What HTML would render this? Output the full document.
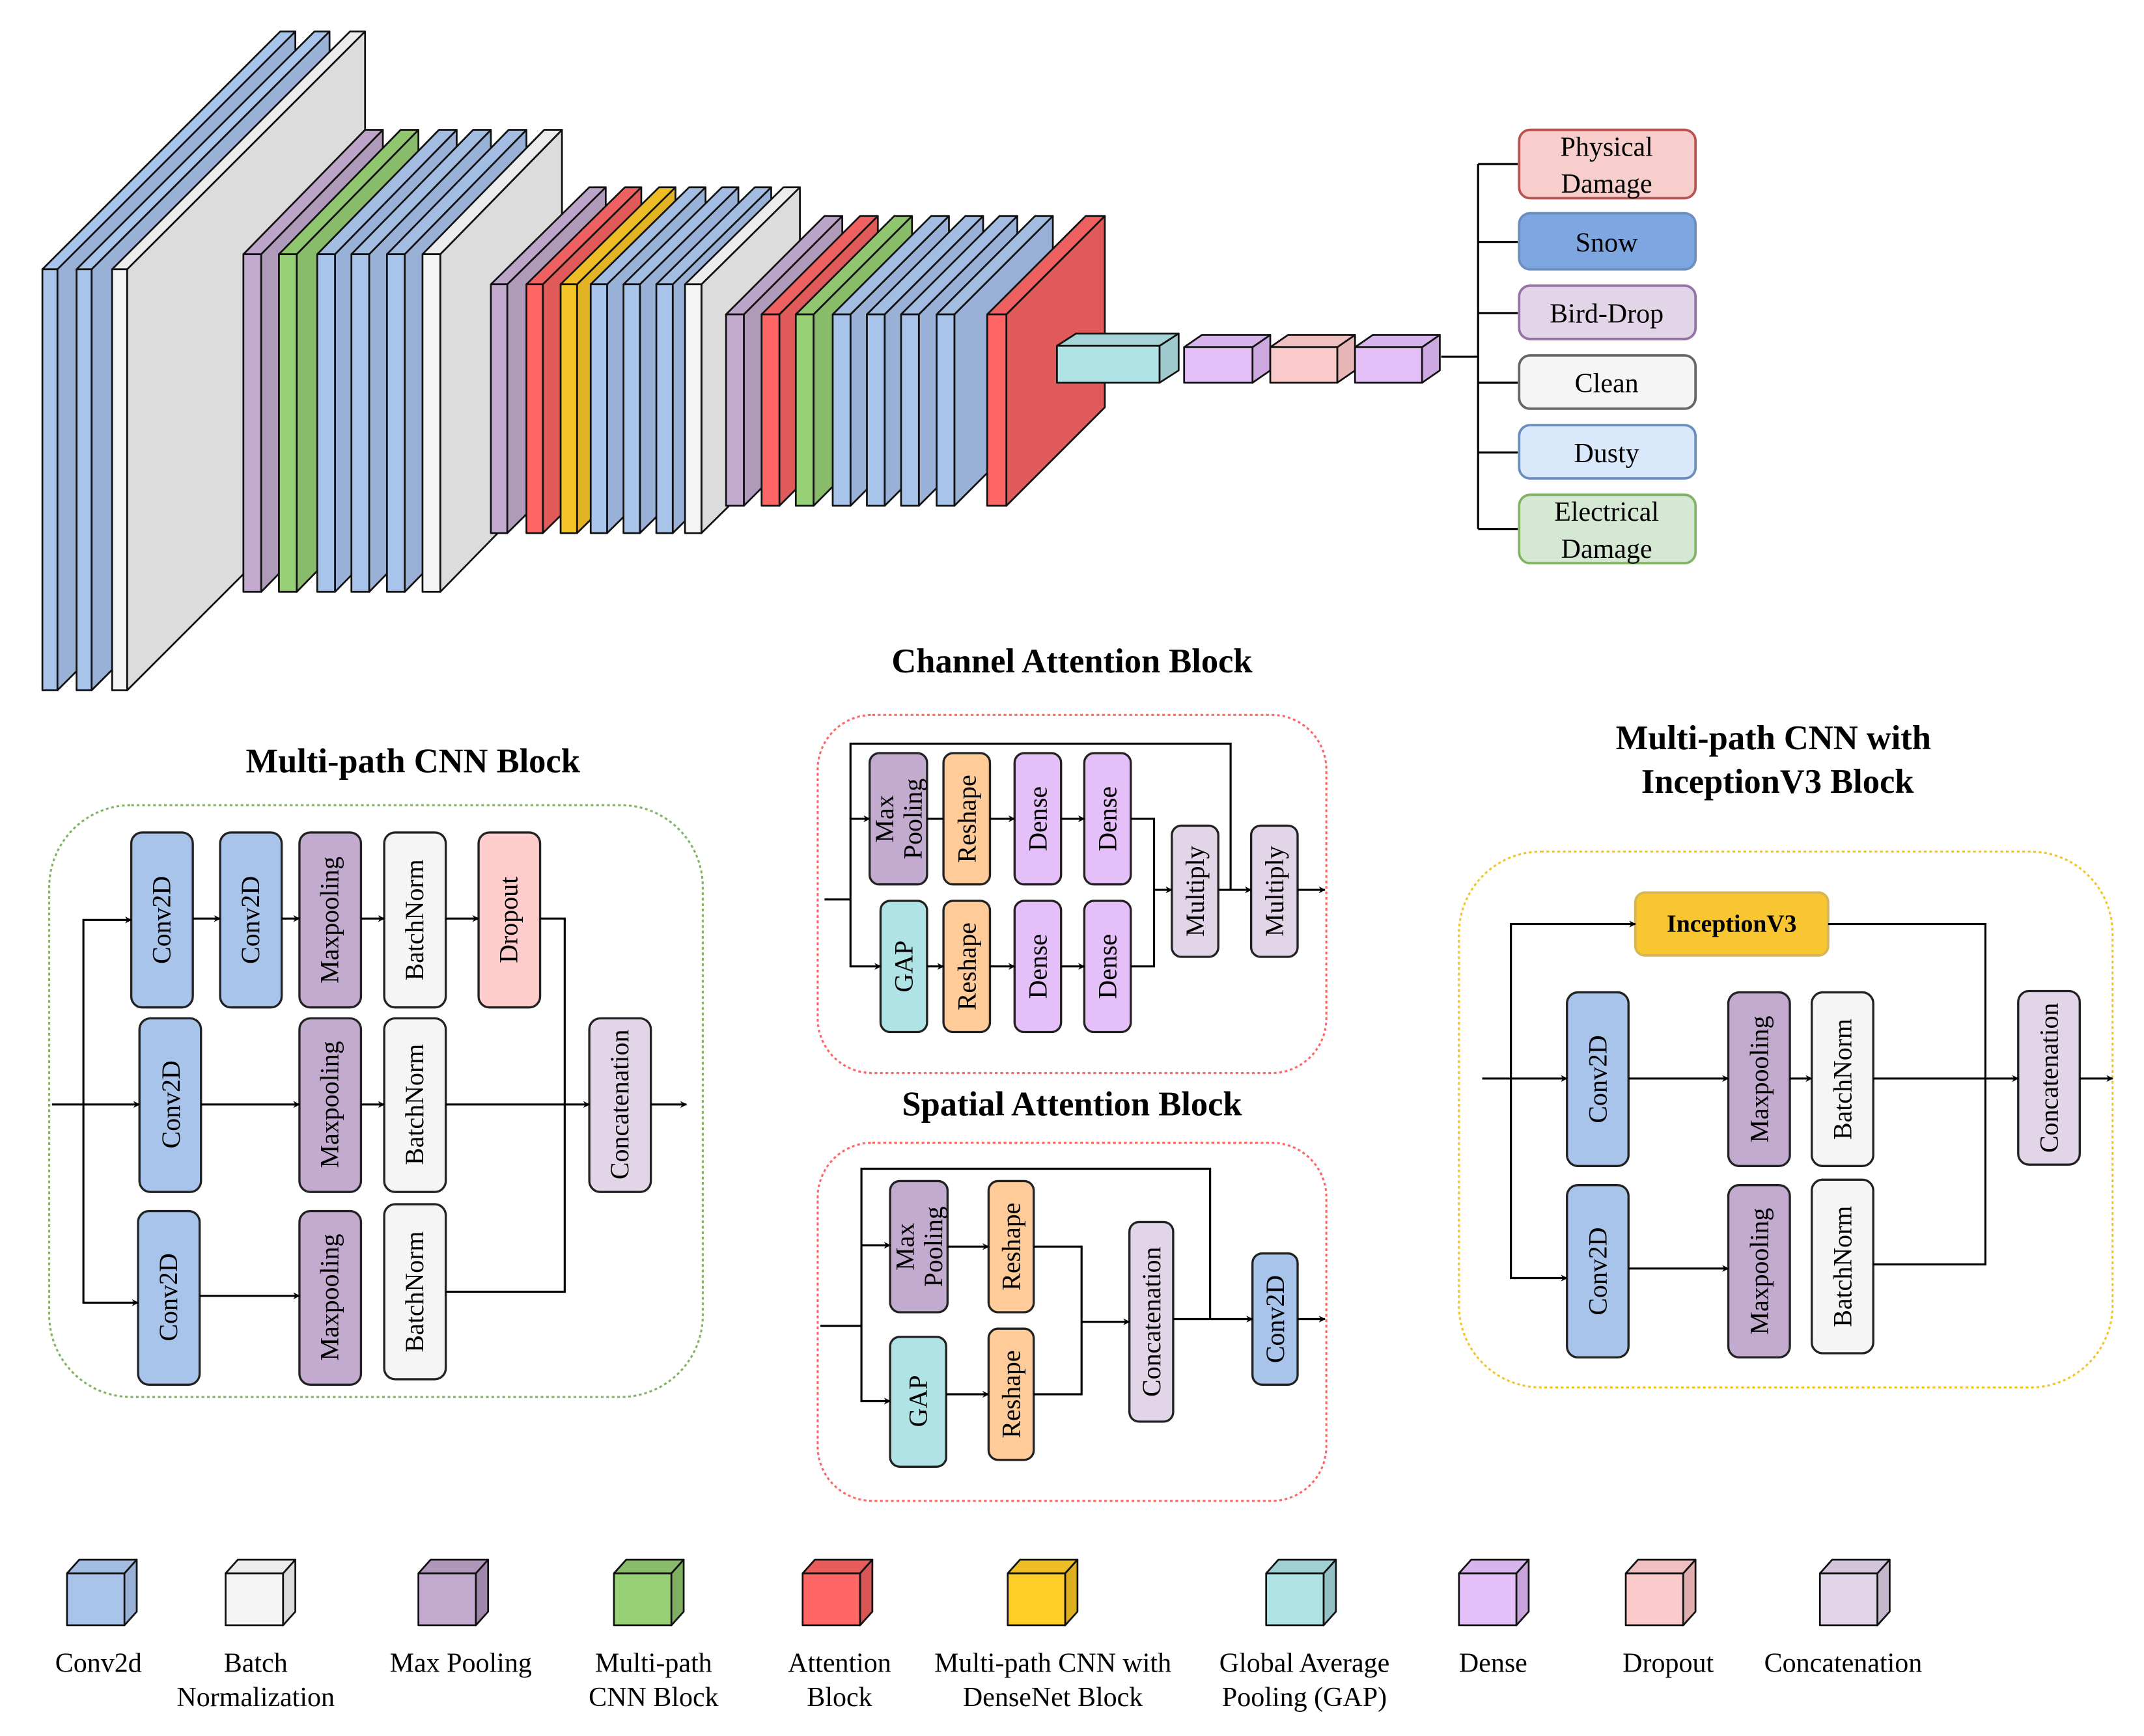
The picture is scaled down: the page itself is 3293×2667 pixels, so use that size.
<!DOCTYPE html>
<html><head><meta charset="utf-8"><style>
html,body{margin:0;padding:0;background:#fff}
svg{display:block}
text{font-family:"Liberation Serif",serif;fill:#000}
.s{stroke:#111;stroke-width:1.3;stroke-linejoin:round}
.b{stroke:#222;stroke-width:1.6}
.l{fill:none;stroke:#000;stroke-width:1.5}
.t{font-size:19px;text-anchor:middle;dominant-baseline:central}
.h{font-size:25px;font-weight:bold;text-anchor:middle}
.g{font-size:20px;text-anchor:middle}
</style></head><body>
<svg width="3293" height="2667" viewBox="0 0 1568 1270" preserveAspectRatio="none" xmlns="http://www.w3.org/2000/svg">
<defs>
<marker id="a" viewBox="0 0 10 10" refX="9" refY="5" markerWidth="5" markerHeight="5" orient="auto" markerUnits="userSpaceOnUse"><path d="M0,0 L10,5 L0,10 L3,5 z" fill="#000"/></marker>
</defs>

<g class="s">
<g transform="translate(31,197)"><polygon points="11,0 185,-174 185,134 11,308" fill="#99b1d6"/><polygon points="0,0 174,-174 185,-174 11,0" fill="#a9c4eb"/><rect width="11" height="308" fill="#a9c4eb"/></g>
<g transform="translate(56,197)"><polygon points="11,0 185,-174 185,134 11,308" fill="#99b1d6"/><polygon points="0,0 174,-174 185,-174 11,0" fill="#a9c4eb"/><rect width="11" height="308" fill="#a9c4eb"/></g>
<g transform="translate(82,197)"><polygon points="11,0 185,-174 185,134 11,308" fill="#dcdcdc"/><polygon points="0,0 174,-174 185,-174 11,0" fill="#ececec"/><rect width="11" height="308" fill="#f5f5f5"/></g>
</g>

<g class="s">
<g transform="translate(178,186)"><polygon points="13,0 102,-91 102,156 13,247" fill="#b09ab9"/><polygon points="0,0 89,-91 102,-91 13,0" fill="#bca5c9"/><rect width="13" height="247" fill="#c3abd0"/></g>
<g transform="translate(204,186)"><polygon points="13,0 102,-91 102,156 13,247" fill="#88bb6a"/><polygon points="0,0 89,-91 102,-91 13,0" fill="#90c66f"/><rect width="13" height="247" fill="#97d077"/></g>
<g transform="translate(232,186)"><polygon points="13,0 102,-91 102,156 13,247" fill="#99b1d6"/><polygon points="0,0 89,-91 102,-91 13,0" fill="#a2bce2"/><rect width="13" height="247" fill="#a9c4eb"/></g>
<g transform="translate(257,186)"><polygon points="13,0 102,-91 102,156 13,247" fill="#99b1d6"/><polygon points="0,0 89,-91 102,-91 13,0" fill="#a2bce2"/><rect width="13" height="247" fill="#a9c4eb"/></g>
<g transform="translate(283,186)"><polygon points="13,0 102,-91 102,156 13,247" fill="#99b1d6"/><polygon points="0,0 89,-91 102,-91 13,0" fill="#a2bce2"/><rect width="13" height="247" fill="#a9c4eb"/></g>
<g transform="translate(309,186)"><polygon points="13,0 102,-91 102,156 13,247" fill="#dcdcdc"/><polygon points="0,0 89,-91 102,-91 13,0" fill="#ececec"/><rect width="13" height="247" fill="#f5f5f5"/></g>
</g>

<g class="s">
<g transform="translate(359,208)"><polygon points="12,0 84,-71 84,111 12,182" fill="#b09ab9"/><polygon points="0,0 72,-71 84,-71 12,0" fill="#bca5c9"/><rect width="12" height="182" fill="#c3abd0"/></g>
<g transform="translate(385,208)"><polygon points="12,0 84,-71 84,111 12,182" fill="#e05a5a"/><polygon points="0,0 72,-71 84,-71 12,0" fill="#ef6060"/><rect width="12" height="182" fill="#ff6666"/></g>
<g transform="translate(410,208)"><polygon points="12,0 84,-71 84,111 12,182" fill="#e2b424"/><polygon points="0,0 72,-71 84,-71 12,0" fill="#eebd26"/><rect width="12" height="182" fill="#f5c527"/></g>
<g transform="translate(432,208)"><polygon points="12,0 84,-71 84,111 12,182" fill="#99b1d6"/><polygon points="0,0 72,-71 84,-71 12,0" fill="#a2bce2"/><rect width="12" height="182" fill="#a9c4eb"/></g>
<g transform="translate(456,208)"><polygon points="12,0 84,-71 84,111 12,182" fill="#99b1d6"/><polygon points="0,0 72,-71 84,-71 12,0" fill="#a2bce2"/><rect width="12" height="182" fill="#a9c4eb"/></g>
<g transform="translate(480,208)"><polygon points="12,0 84,-71 84,111 12,182" fill="#99b1d6"/><polygon points="0,0 72,-71 84,-71 12,0" fill="#a2bce2"/><rect width="12" height="182" fill="#a9c4eb"/></g>
<g transform="translate(501,208)"><polygon points="12,0 84,-71 84,111 12,182" fill="#dcdcdc"/><polygon points="0,0 72,-71 84,-71 12,0" fill="#ececec"/><rect width="12" height="182" fill="#f5f5f5"/></g>
</g>

<g class="s">
<g transform="translate(531,230)"><polygon points="13,0 85,-72 85,68 13,140" fill="#b09ab9"/><polygon points="0,0 72,-72 85,-72 13,0" fill="#bca5c9"/><rect width="13" height="140" fill="#c3abd0"/></g>
<g transform="translate(557,230)"><polygon points="13,0 85,-72 85,68 13,140" fill="#e05a5a"/><polygon points="0,0 72,-72 85,-72 13,0" fill="#ef6060"/><rect width="13" height="140" fill="#ff6666"/></g>
<g transform="translate(582,230)"><polygon points="13,0 85,-72 85,68 13,140" fill="#88bb6a"/><polygon points="0,0 72,-72 85,-72 13,0" fill="#90c66f"/><rect width="13" height="140" fill="#97d077"/></g>
<g transform="translate(609,230)"><polygon points="13,0 85,-72 85,68 13,140" fill="#99b1d6"/><polygon points="0,0 72,-72 85,-72 13,0" fill="#a2bce2"/><rect width="13" height="140" fill="#a9c4eb"/></g>
<g transform="translate(634,230)"><polygon points="13,0 85,-72 85,68 13,140" fill="#99b1d6"/><polygon points="0,0 72,-72 85,-72 13,0" fill="#a2bce2"/><rect width="13" height="140" fill="#a9c4eb"/></g>
<g transform="translate(659,230)"><polygon points="13,0 85,-72 85,68 13,140" fill="#99b1d6"/><polygon points="0,0 72,-72 85,-72 13,0" fill="#a2bce2"/><rect width="13" height="140" fill="#a9c4eb"/></g>
<g transform="translate(685,230)"><polygon points="13,0 85,-72 85,68 13,140" fill="#99b1d6"/><polygon points="0,0 72,-72 85,-72 13,0" fill="#a2bce2"/><rect width="13" height="140" fill="#a9c4eb"/></g>
<g transform="translate(722,230)"><polygon points="14,0 86,-72 86,68 14,140" fill="#e05a5a"/><polygon points="0,0 72,-72 86,-72 14,0" fill="#ef6060"/><rect width="14" height="140" fill="#ff6666"/></g>
</g>

<g class="s" stroke-width="2">
<g transform="translate(773,253)"><polygon points="75,0 89,-9 89,18 75,27" fill="#9fcbcf"/><polygon points="0,0 14,-9 89,-9 75,0" fill="#a6d5d9"/><rect width="75" height="27" fill="#b0e3e6"/></g>
<g transform="translate(866,254)"><polygon points="50,0 63,-9 63,17 50,26" fill="#cda8e0"/><polygon points="0,0 13,-9 63,-9 50,0" fill="#d7b5ec"/><rect width="50" height="26" fill="#e5bff8"/></g>
<g transform="translate(929,254)"><polygon points="49,0 62,-9 62,17 49,26" fill="#e6b6b6"/><polygon points="0,0 13,-9 62,-9 49,0" fill="#f0c0c0"/><rect width="49" height="26" fill="#fbcaca"/></g>
<g transform="translate(991,254)"><polygon points="49,0 62,-9 62,17 49,26" fill="#cda8e0"/><polygon points="0,0 13,-9 62,-9 49,0" fill="#d7b5ec"/><rect width="49" height="26" fill="#e5bff8"/></g>
</g>

<g class="l" stroke="#333">
<path d="M1054,261 H1081 M1081,120 V387 M1081,120 H1110 M1081,177 H1110 M1081,229 H1110 M1081,280 H1110 M1081,331 H1110 M1081,387 H1110"/>
</g>
<g stroke-width="1.8">
<rect x="1111" y="95" width="129" height="50" rx="8" fill="#f8cecc" stroke="#b85450"/>
<rect x="1111" y="156" width="129" height="41" rx="8" fill="#7ea6e0" stroke="#6c8ebf"/>
<rect x="1111" y="209" width="129" height="39" rx="8" fill="#e1d5e7" stroke="#9673a6"/>
<rect x="1111" y="260" width="129" height="39" rx="8" fill="#f5f5f5" stroke="#666"/>
<rect x="1111" y="311" width="129" height="39" rx="8" fill="#dae8fc" stroke="#6c8ebf"/>
<rect x="1111" y="362" width="129" height="50" rx="8" fill="#d5e8d4" stroke="#82b366"/>
</g>
<g class="g">
<text x="1175" y="114">Physical</text><text x="1175" y="141">Damage</text>
<text x="1175" y="184">Snow</text>
<text x="1175" y="236">Bird-Drop</text>
<text x="1175" y="287">Clean</text>
<text x="1175" y="338">Dusty</text>
<text x="1175" y="381">Electrical</text><text x="1175" y="408">Damage</text>
</g>

<text class="h" x="302" y="565">Multi-path CNN Block</text>
<rect x="36" y="589" width="478" height="433" rx="60" fill="none" stroke="#82b366" stroke-width="1.5" stroke-dasharray="2 2"/>
<g class="b">
<rect x="96" y="609" width="45" height="128" rx="8" fill="#a9c4eb"/>
<rect x="161" y="609" width="45" height="128" rx="8" fill="#a9c4eb"/>
<rect x="219" y="609" width="45" height="128" rx="8" fill="#c3abd0"/>
<rect x="281" y="609" width="45" height="128" rx="8" fill="#f5f5f5"/>
<rect x="350" y="609" width="45" height="128" rx="8" fill="#ffcccc"/>
<rect x="102" y="745" width="45" height="127" rx="8" fill="#a9c4eb"/>
<rect x="219" y="745" width="45" height="127" rx="8" fill="#c3abd0"/>
<rect x="281" y="745" width="45" height="127" rx="8" fill="#f5f5f5"/>
<rect x="431" y="745" width="45" height="127" rx="8" fill="#e1d5e7"/>
<rect x="101" y="886" width="45" height="127" rx="8" fill="#a9c4eb"/>
<rect x="219" y="886" width="45" height="127" rx="8" fill="#c3abd0"/>
<rect x="281" y="881" width="45" height="128" rx="8" fill="#f5f5f5"/>
</g>
<g class="t">
<text transform="rotate(-90 118 673)" x="118" y="673">Conv2D</text>
<text transform="rotate(-90 183 673)" x="183" y="673">Conv2D</text>
<text transform="rotate(-90 241 673)" x="241" y="673">Maxpooling</text>
<text transform="rotate(-90 303 673)" x="303" y="673">BatchNorm</text>
<text transform="rotate(-90 372 673)" x="372" y="673">Dropout</text>
<text transform="rotate(-90 125 808)" x="125" y="808">Conv2D</text>
<text transform="rotate(-90 241 808)" x="241" y="808">Maxpooling</text>
<text transform="rotate(-90 303 808)" x="303" y="808">BatchNorm</text>
<text transform="rotate(-90 453 808)" x="453" y="808">Concatenation</text>
<text transform="rotate(-90 123 949)" x="123" y="949">Conv2D</text>
<text transform="rotate(-90 241 949)" x="241" y="949">Maxpooling</text>
<text transform="rotate(-90 303 945)" x="303" y="945">BatchNorm</text>
</g>
<g class="l">
<path d="M38,808 H102" marker-end="url(#a)"/>
<path d="M61,808 V673 H96" marker-end="url(#a)"/>
<path d="M61,808 V953 H101" marker-end="url(#a)"/>
<path d="M141,672 H161" marker-end="url(#a)"/>
<path d="M206,672 H219" marker-end="url(#a)"/>
<path d="M264,672 H281" marker-end="url(#a)"/>
<path d="M326,672 H350" marker-end="url(#a)"/>
<path d="M147,808 H219" marker-end="url(#a)"/>
<path d="M264,808 H281" marker-end="url(#a)"/>
<path d="M146,948 H219" marker-end="url(#a)"/>
<path d="M395,672 H413 V945 H326"/>
<path d="M326,808 H431" marker-end="url(#a)"/>
<path d="M476,808 H502" marker-end="url(#a)"/>
</g>

<text class="h" x="784" y="492">Channel Attention Block</text>
<rect x="598" y="523" width="372" height="262" rx="40" fill="none" stroke="#ff6666" stroke-width="1.5" stroke-dasharray="2 2"/>
<g class="b">
<rect x="636" y="551" width="42" height="96" rx="7" fill="#c3abd0"/>
<rect x="690" y="551" width="34" height="96" rx="7" fill="#ffcc99"/>
<rect x="742" y="551" width="34" height="96" rx="7" fill="#e5bff8"/>
<rect x="793" y="551" width="34" height="96" rx="7" fill="#e5bff8"/>
<rect x="644" y="659" width="34" height="96" rx="7" fill="#b0e3e6"/>
<rect x="690" y="659" width="34" height="96" rx="7" fill="#ffcc99"/>
<rect x="742" y="659" width="34" height="96" rx="7" fill="#e5bff8"/>
<rect x="793" y="659" width="34" height="96" rx="7" fill="#e5bff8"/>
<rect x="857" y="604" width="34" height="96" rx="7" fill="#e1d5e7"/>
<rect x="915" y="604" width="34" height="96" rx="7" fill="#e1d5e7"/>
</g>
<g class="t">
<text transform="rotate(-90 657 599)" x="657" y="599"><tspan x="657" dy="-0.55em">Max</tspan><tspan x="657" dy="1.1em">Pooling</tspan></text>
<text transform="rotate(-90 707 599)" x="707" y="599">Reshape</text>
<text transform="rotate(-90 759 599)" x="759" y="599">Dense</text>
<text transform="rotate(-90 810 599)" x="810" y="599">Dense</text>
<text transform="rotate(-90 661 707)" x="661" y="707">GAP</text>
<text transform="rotate(-90 707 707)" x="707" y="707">Reshape</text>
<text transform="rotate(-90 759 707)" x="759" y="707">Dense</text>
<text transform="rotate(-90 810 707)" x="810" y="707">Dense</text>
<text transform="rotate(-90 874 652)" x="874" y="652">Multiply</text>
<text transform="rotate(-90 932 652)" x="932" y="652">Multiply</text>
</g>
<g class="l">
<path d="M603,658 H622"/>
<path d="M622,658 V599 H636" marker-end="url(#a)"/>
<path d="M622,658 V707 H644" marker-end="url(#a)"/>
<path d="M622,599 V544 H900 V651"/>
<path d="M678,599 H690"/>
<path d="M724,599 H742" marker-end="url(#a)"/>
<path d="M776,599 H793" marker-end="url(#a)"/>
<path d="M678,707 H690" marker-end="url(#a)"/>
<path d="M724,707 H742" marker-end="url(#a)"/>
<path d="M776,707 H793" marker-end="url(#a)"/>
<path d="M827,599 H844 V707 H827"/>
<path d="M844,651 H857" marker-end="url(#a)"/>
<path d="M891,651 H915" marker-end="url(#a)"/>
<path d="M949,651 H969" marker-end="url(#a)"/>
</g>

<text class="h" x="784" y="816">Spatial Attention Block</text>
<rect x="598" y="836" width="372" height="262" rx="40" fill="none" stroke="#ff6666" stroke-width="1.5" stroke-dasharray="2 2"/>
<g class="b">
<rect x="651" y="864" width="42" height="96" rx="7" fill="#c3abd0"/>
<rect x="723" y="864" width="33" height="96" rx="7" fill="#ffcc99"/>
<rect x="651" y="978" width="41" height="95" rx="7" fill="#b0e3e6"/>
<rect x="723" y="972" width="33" height="96" rx="7" fill="#ffcc99"/>
<rect x="826" y="894" width="32" height="146" rx="7" fill="#e1d5e7"/>
<rect x="916" y="917" width="33" height="96" rx="7" fill="#a9c4eb"/>
</g>
<g class="t">
<text transform="rotate(-90 672 912)" x="672" y="912"><tspan x="672" dy="-0.55em">Max</tspan><tspan x="672" dy="1.1em">Pooling</tspan></text>
<text transform="rotate(-90 739.5 912)" x="739.5" y="912">Reshape</text>
<text transform="rotate(-90 671.5 1025)" x="671.5" y="1025">GAP</text>
<text transform="rotate(-90 739.5 1020)" x="739.5" y="1020">Reshape</text>
<text transform="rotate(-90 842 967)" x="842" y="967">Concatenation</text>
<text transform="rotate(-90 932.5 965)" x="932.5" y="965">Conv2D</text>
</g>
<g class="l">
<path d="M600,970 H630"/>
<path d="M630,970 V911 H651" marker-end="url(#a)"/>
<path d="M630,970 V1025 H651" marker-end="url(#a)"/>
<path d="M630,911 V855 H885 V965"/>
<path d="M693,912 H723" marker-end="url(#a)"/>
<path d="M692,1020 H723" marker-end="url(#a)"/>
<path d="M756,912 H791 V1020 H756"/>
<path d="M791,967 H826" marker-end="url(#a)"/>
<path d="M858,965 H916" marker-end="url(#a)"/>
<path d="M949,965 H969" marker-end="url(#a)"/>
</g>

<text class="h" x="1297" y="548">Multi-path CNN with</text>
<text class="h" x="1300" y="580">InceptionV3 Block</text>
<rect x="1067" y="623" width="478" height="392" rx="60" fill="none" stroke="#f5c527" stroke-width="1.5" stroke-dasharray="2 2"/>
<rect x="1196" y="653" width="141" height="46" rx="7" fill="#f8c630" stroke="#d6b656" stroke-width="1.8"/>
<text x="1266.5" y="676" style="font-size:18px;font-weight:bold;text-anchor:middle;dominant-baseline:central">InceptionV3</text>
<g class="b">
<rect x="1146" y="726" width="45" height="127" rx="8" fill="#a9c4eb"/>
<rect x="1264" y="726" width="45" height="127" rx="8" fill="#c3abd0"/>
<rect x="1325" y="726" width="45" height="127" rx="8" fill="#f5f5f5"/>
<rect x="1146" y="867" width="45" height="126" rx="8" fill="#a9c4eb"/>
<rect x="1264" y="867" width="45" height="126" rx="8" fill="#c3abd0"/>
<rect x="1325" y="863" width="45" height="127" rx="8" fill="#f5f5f5"/>
<rect x="1476" y="725" width="45" height="127" rx="8" fill="#e1d5e7"/>
</g>
<g class="t">
<text transform="rotate(-90 1168.5 789.5)" x="1168.5" y="789.5">Conv2D</text>
<text transform="rotate(-90 1286.5 789.5)" x="1286.5" y="789.5">Maxpooling</text>
<text transform="rotate(-90 1347.5 789.5)" x="1347.5" y="789.5">BatchNorm</text>
<text transform="rotate(-90 1168.5 930)" x="1168.5" y="930">Conv2D</text>
<text transform="rotate(-90 1286.5 930)" x="1286.5" y="930">Maxpooling</text>
<text transform="rotate(-90 1347.5 926.5)" x="1347.5" y="926.5">BatchNorm</text>
<text transform="rotate(-90 1498.5 788.5)" x="1498.5" y="788.5">Concatenation</text>
</g>
<g class="l">
<path d="M1084,789 H1146" marker-end="url(#a)"/>
<path d="M1105,789 V676 H1196" marker-end="url(#a)"/>
<path d="M1105,789 V935 H1146" marker-end="url(#a)"/>
<path d="M1337,676 H1452 V925 H1370"/>
<path d="M1191,789 H1264" marker-end="url(#a)"/>
<path d="M1309,789 H1325" marker-end="url(#a)"/>
<path d="M1191,928 H1264" marker-end="url(#a)"/>
<path d="M1370,789 H1476" marker-end="url(#a)"/>
<path d="M1521,789 H1545" marker-end="url(#a)"/>
</g>

<g class="s" stroke-width="1.5">
<g transform="translate(49,1151)"><polygon points="42,0 51,-10 51,28 42,38" fill="#99b1d6"/><polygon points="0,0 9,-10 51,-10 42,0" fill="#a2bce2"/><rect width="42" height="38" fill="#a9c4eb"/></g>
<g transform="translate(165,1151)"><polygon points="42,0 51,-10 51,28 42,38" fill="#dcdcdc"/><polygon points="0,0 9,-10 51,-10 42,0" fill="#ececec"/><rect width="42" height="38" fill="#f5f5f5"/></g>
<g transform="translate(306,1151)"><polygon points="42,0 51,-10 51,28 42,38" fill="#9e86aa"/><polygon points="0,0 9,-10 51,-10 42,0" fill="#ae97bb"/><rect width="42" height="38" fill="#c3abd0"/></g>
<g transform="translate(449,1151)"><polygon points="42,0 51,-10 51,28 42,38" fill="#7fb062"/><polygon points="0,0 9,-10 51,-10 42,0" fill="#88bb6a"/><rect width="42" height="38" fill="#97d077"/></g>
<g transform="translate(587,1151)"><polygon points="42,0 51,-10 51,28 42,38" fill="#d85555"/><polygon points="0,0 9,-10 51,-10 42,0" fill="#e85c5c"/><rect width="42" height="38" fill="#ff6666"/></g>
<g transform="translate(737,1151)"><polygon points="42,0 51,-10 51,28 42,38" fill="#dcae20"/><polygon points="0,0 9,-10 51,-10 42,0" fill="#eebd26"/><rect width="42" height="38" fill="#ffcd28"/></g>
<g transform="translate(926,1151)"><polygon points="42,0 51,-10 51,28 42,38" fill="#94c0c3"/><polygon points="0,0 9,-10 51,-10 42,0" fill="#a0d0d3"/><rect width="42" height="38" fill="#b0e3e6"/></g>
<g transform="translate(1067,1151)"><polygon points="42,0 51,-10 51,28 42,38" fill="#c8a2da"/><polygon points="0,0 9,-10 51,-10 42,0" fill="#d7b5ec"/><rect width="42" height="38" fill="#e5bff8"/></g>
<g transform="translate(1189,1151)"><polygon points="42,0 51,-10 51,28 42,38" fill="#dfadad"/><polygon points="0,0 9,-10 51,-10 42,0" fill="#f0c0c0"/><rect width="42" height="38" fill="#fbcaca"/></g>
<g transform="translate(1331,1151)"><polygon points="42,0 51,-10 51,28 42,38" fill="#c5b7cc"/><polygon points="0,0 9,-10 51,-10 42,0" fill="#d3c5da"/><rect width="42" height="38" fill="#e1d5e7"/></g>
</g>
<g class="g">
<text x="72" y="1223">Conv2d</text>
<text x="187" y="1223">Batch</text><text x="187" y="1248">Normalization</text>
<text x="337" y="1223">Max Pooling</text>
<text x="478" y="1223">Multi-path</text><text x="478" y="1248">CNN Block</text>
<text x="614" y="1223">Attention</text><text x="614" y="1248">Block</text>
<text x="770" y="1223">Multi-path CNN with</text><text x="770" y="1248">DenseNet Block</text>
<text x="954" y="1223">Global Average</text><text x="954" y="1248">Pooling (GAP)</text>
<text x="1092" y="1223">Dense</text>
<text x="1220" y="1223">Dropout</text>
<text x="1348" y="1223">Concatenation</text>
</g>
</svg>
</body></html>
